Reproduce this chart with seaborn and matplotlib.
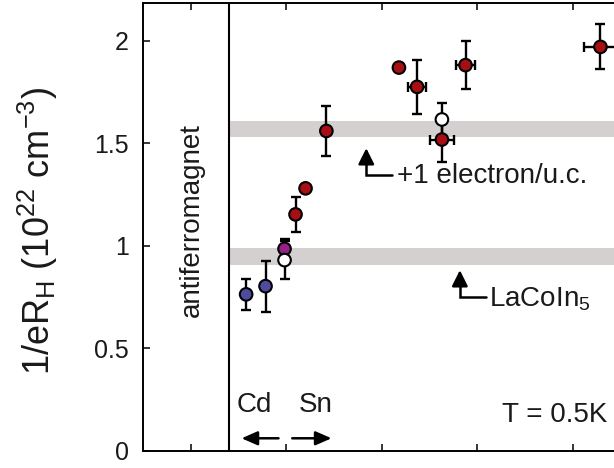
import matplotlib
matplotlib.use("Agg")
import matplotlib.pyplot as plt
import seaborn as sns
import pandas as pd
import numpy as np

# ---- data ----
x_vals = [-0.42, -0.217, -0.018, -0.018, 0.097, 0.202, 0.42, 1.18, 1.37, 1.63, 1.63, 1.877, 3.29]
y_vals = [0.764, 0.804, 0.986, 0.931, 1.154, 1.281, 1.561, 1.870, 1.776, 1.617, 1.519, 1.882, 1.971]
y_err = [0.075, 0.125, 0.05, 0.093, 0.085, 0.0, 0.12, 0.0, 0.133, 0.08, 0.11, 0.118, 0.11]
x_err = [0.0, 0.0, 0.0, 0.0, 0.0, 0.0, 0.0, 0.0, 0.09, 0.0, 0.13, 0.10, 0.175]
groups = ["Cd", "Cd", "mix", "open", "Sn", "Sn", "Sn", "Sn", "Sn", "open", "Sn", "Sn", "Sn"]
palette = {"Cd": "#4f4ca0", "mix": "#92218a", "open": "#ffffff", "Sn": "#a80f14"}

band_levels = [1.571, 0.949]
band_half = 0.04
afm_boundary = -0.6
y_ticks = [0, 0.5, 1, 1.5, 2]
y_ticklabels = ["0", "0.5", "1", "1.5", "2"]
x_ticks = [-1, 0, 1, 2, 3]

df = pd.DataFrame({"x": x_vals, "y": y_vals, "group": groups})

sns.set_theme(style="ticks")
plt.rcParams["font.family"] = ["Liberation Sans", "DejaVu Sans"]
plt.rcParams["mathtext.fontset"] = "custom"
plt.rcParams["mathtext.rm"] = "Liberation Sans"
plt.rcParams["mathtext.it"] = "Liberation Sans:italic"
plt.rcParams["mathtext.bf"] = "Liberation Sans:bold"

txt_color = "#1a1a1a"

fig = plt.figure(figsize=(6.14, 4.68), dpi=100)
ax = fig.add_axes([143 / 614, 17 / 468, 477.5 / 614, 448 / 468])

ax.set_xlim(-1.5, 3.5)
ax.set_ylim(0, 2.185)

# grey bands
for lvl in band_levels:
    ax.fill_between([afm_boundary, 3.5], lvl - band_half, lvl + band_half,
                    color="#d4d0d0", lw=0, zorder=0.5)

# AFM boundary
ax.axvline(afm_boundary, color="black", lw=1.5, zorder=1)

# error bars
ax.errorbar(x_vals, y_vals, yerr=y_err, xerr=x_err, fmt="none", ecolor="black",
            elinewidth=1.7, capsize=3.3, capthick=1.7, zorder=2)

# points
sns.scatterplot(data=df, x="x", y="y", hue="group", palette=palette, ax=ax,
                s=82, edgecolor="black", linewidth=1.5, legend=False, zorder=3)

ax.set_xlabel("")
ax.set_ylabel("")
ax.set_xticks(x_ticks)
ax.set_xticklabels([])
ax.set_yticks(y_ticks)
ax.set_yticklabels(y_ticklabels)
ax.tick_params(direction="in", length=5, width=1.1, top=True, right=True,
               labelsize=18, pad=10, colors="black", labelcolor=txt_color)
for sp in ax.spines.values():
    sp.set_linewidth(1.4)
    sp.set_color("black")

fig.text(38 / 614, 1 - 231 / 468, r"1/eR$_\mathrm{H}$ (10$^\mathrm{22}$ cm$^\mathrm{-3}$)",
         rotation=90, ha="center", va="center", fontsize=26, color=txt_color)

ax.text(-0.99, 1.128, "antiferromagnet", rotation=90, ha="center", va="center",
        fontsize=20, color=txt_color)

# elbow arrows
def elbow(tip_x, tip_y, corner_y, end_x):
    ax.plot([tip_x, tip_x, end_x], [tip_y - 0.03, corner_y, corner_y],
            color="black", lw=1.8, solid_joinstyle="miter", zorder=4)
    ax.annotate("", xy=(tip_x, tip_y), xytext=(tip_x, tip_y - 0.06),
                arrowprops=dict(arrowstyle="-|>,head_length=0.8,head_width=0.4",
                                color="black", lw=1.8, shrinkA=0, shrinkB=0),
                zorder=4)

elbow(0.838, 1.477, 1.345, 1.11)
ax.text(1.162, 1.306, "+1 electron/u.c.", fontsize=20, ha="left", va="baseline",
        color=txt_color)
elbow(1.818, 0.882, 0.752, 2.087)
ax.text(2.118, 0.707, r"LaCoIn$_\mathrm{5}$", fontsize=20, ha="left", va="baseline",
        color=txt_color)

# Cd / Sn arrows
ax.text(-0.33, 0.192, "Cd", fontsize=20, ha="center", va="baseline", color=txt_color)
ax.text(0.304, 0.192, "Sn", fontsize=20, ha="center", va="baseline", color=txt_color)
ax.annotate("", xy=(-0.468, 0.062), xytext=(-0.081, 0.062),
            arrowprops=dict(arrowstyle="-|>,head_length=0.8,head_width=0.35",
                            color="black", lw=1.8, shrinkA=0, shrinkB=0))
ax.annotate("", xy=(0.474, 0.062), xytext=(0.063, 0.062),
            arrowprops=dict(arrowstyle="-|>,head_length=0.8,head_width=0.35",
                            color="black", lw=1.8, shrinkA=0, shrinkB=0))

ax.text(3.367, 0.143, "T = 0.5K", fontsize=20, ha="right", va="baseline", color=txt_color)

fig.savefig("out.png", dpi=100)
